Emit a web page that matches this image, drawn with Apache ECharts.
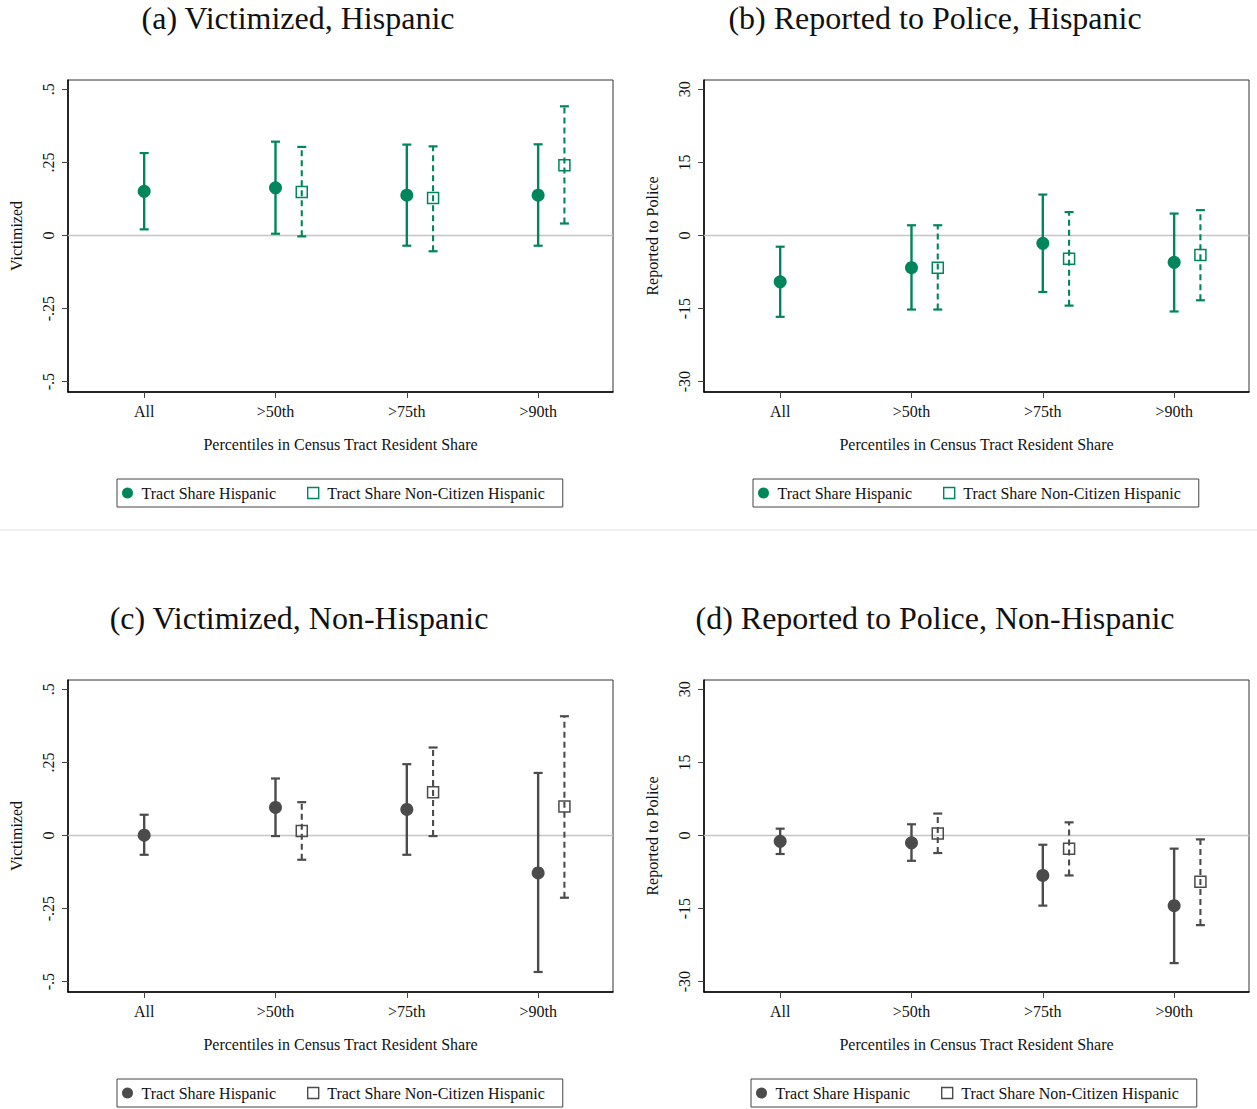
<!DOCTYPE html>
<html>
<head>
<meta charset="utf-8">
<script src="https://cdn.jsdelivr.net/npm/echarts@6/dist/echarts.min.js"></script>
<style>
  html, body { margin: 0; padding: 0; background: #ffffff; }
  #page { position: relative; width: 1257px; height: 1109px; background: #fff; }
  .panel { position: absolute; }
  #sep { position: absolute; left: 0; top: 529px; width: 1257px; height: 2px; background: #f0f0f0; }
</style>
</head>
<body>
<div id="page">
  <div id="pa" class="panel" style="left:0px;top:0px;width:628px;height:529px;"></div>
  <div id="pb" class="panel" style="left:628px;top:0px;width:629px;height:529px;"></div>
  <div id="sep"></div>
  <div id="pc" class="panel" style="left:0px;top:600px;width:628px;height:509px;"></div>
  <div id="pd" class="panel" style="left:628px;top:600px;width:629px;height:509px;"></div>
</div>
<script>
// ---------------- DATA ----------------
const categories = ['All', '>50th', '>75th', '>90th'];
const seriesNames = ['Tract Share Hispanic', 'Tract Share Non-Citizen Hispanic'];
const xLabel = 'Percentiles in Census Tract Resident Share';

const victimTickValues = [-0.5, -0.25, 0, 0.25, 0.5];
const victimTickLabels = ['-.5', '-.25', '0', '.25', '.5'];
const policeTickValues = [-30, -15, 0, 15, 30];
const policeTickLabels = ['-30', '-15', '0', '15', '30'];

// (a) Victimized, Hispanic
const vicHispShareEst = [0.151, 0.163, 0.138, 0.138];
const vicHispShareLo  = [0.021, 0.006, -0.035, -0.035];
const vicHispShareHi  = [0.282, 0.321, 0.311, 0.312];
const vicHispNonCitEst = [null, 0.149, 0.128, 0.240];
const vicHispNonCitLo  = [null, -0.003, -0.054, 0.041];
const vicHispNonCitHi  = [null, 0.303, 0.305, 0.442];

// (b) Reported to Police, Hispanic
const polHispShareEst = [-9.5, -6.6, -1.6, -5.5];
const polHispShareLo  = [-16.7, -15.2, -11.6, -15.6];
const polHispShareHi  = [-2.3, 2.1, 8.4, 4.5];
const polHispNonCitEst = [null, -6.6, -4.8, -4.0];
const polHispNonCitLo  = [null, -15.2, -14.4, -13.3];
const polHispNonCitHi  = [null, 2.1, 4.8, 5.2];

// (c) Victimized, Non-Hispanic
const vicNonHispShareEst = [0.001, 0.096, 0.089, -0.128];
const vicNonHispShareLo  = [-0.066, -0.002, -0.066, -0.467];
const vicNonHispShareHi  = [0.071, 0.195, 0.244, 0.214];
const vicNonHispNonCitEst = [null, 0.015, 0.148, 0.099];
const vicNonHispNonCitLo  = [null, -0.083, -0.002, -0.213];
const vicNonHispNonCitHi  = [null, 0.114, 0.301, 0.408];

// (d) Reported to Police, Non-Hispanic
const polNonHispShareEst = [-1.2, -1.5, -8.2, -14.4];
const polNonHispShareLo  = [-3.8, -5.2, -14.4, -26.2];
const polNonHispShareHi  = [1.4, 2.3, -1.9, -2.7];
const polNonHispNonCitEst = [null, 0.4, -2.7, -9.5];
const polNonHispNonCitLo  = [null, -3.6, -8.2, -18.4];
const polNonHispNonCitHi  = [null, 4.5, 2.7, -0.8];

// ---------------- STYLE / LAYOUT ----------------
const GREEN = '#00865a';
const GRAY = '#4b4b4b';
const FONT = 'Liberation Serif';
const DODGE = 0.2;
const SQUARE_ICON = 'path://M0,0H10V10H0Z';

const panels = [
  { el: 'pa', title: '(a) Victimized, Hispanic', yName: 'Victimized', color: GREEN,
    est: vicHispShareEst, lo: vicHispShareLo, hi: vicHispShareHi,
    ncEst: vicHispNonCitEst, ncLo: vicHispNonCitLo, ncHi: vicHispNonCitHi,
    ticks: victimTickValues, tickLabels: victimTickLabels, yMin: -0.5355, yMax: 0.532,
    gridLeft: 67, gridW: 546, titleX: 293, legendLeft: 117 },
  { el: 'pb', title: '(b) Reported to Police, Hispanic', yName: 'Reported to Police', color: GREEN,
    est: polHispShareEst, lo: polHispShareLo, hi: polHispShareHi,
    ncEst: polHispNonCitEst, ncLo: polHispNonCitLo, ncHi: polHispNonCitHi,
    ticks: policeTickValues, tickLabels: policeTickLabels, yMin: -32.13, yMax: 31.92,
    gridLeft: 76, gridW: 545, titleX: 302, legendLeft: 125 },
  { el: 'pc', title: '(c) Victimized, Non-Hispanic', yName: 'Victimized', color: GRAY,
    est: vicNonHispShareEst, lo: vicNonHispShareLo, hi: vicNonHispShareHi,
    ncEst: vicNonHispNonCitEst, ncLo: vicNonHispNonCitLo, ncHi: vicNonHispNonCitHi,
    ticks: victimTickValues, tickLabels: victimTickLabels, yMin: -0.5355, yMax: 0.532,
    gridLeft: 67, gridW: 546, titleX: 294, legendLeft: 117 },
  { el: 'pd', title: '(d) Reported to Police, Non-Hispanic', yName: 'Reported to Police', color: GRAY,
    est: polNonHispShareEst, lo: polNonHispShareLo, hi: polNonHispShareHi,
    ncEst: polNonHispNonCitEst, ncLo: polNonHispNonCitLo, ncHi: polNonHispNonCitHi,
    ticks: policeTickValues, tickLabels: policeTickLabels, yMin: -32.13, yMax: 31.92,
    gridLeft: 76, gridW: 545, titleX: 302, legendLeft: 123 }
];

function errorBarSeries(data, color, dashed) {
  return {
    type: 'custom',
    name: dashed ? 'ci-noncit' : 'ci-share',
    silent: true,
    z: 2,
    data: data,
    encode: { x: 0, y: [1, 2] },
    renderItem: function (params, api) {
      const x = api.value(0), lo = api.value(1), hi = api.value(2);
      const p1 = api.coord([x, lo]);
      const p2 = api.coord([x, hi]);
      const cw = 4.5;
      return {
        type: 'group',
        children: [
          { type: 'line', shape: { x1: p1[0], y1: p1[1], x2: p2[0], y2: p2[1] },
            style: { stroke: color, lineWidth: dashed ? 2.1 : 2.4, lineDash: dashed ? [6, 4] : null, fill: null } },
          { type: 'line', shape: { x1: p1[0] - cw, y1: p1[1], x2: p1[0] + cw, y2: p1[1] },
            style: { stroke: color, lineWidth: 2.2, fill: null } },
          { type: 'line', shape: { x1: p2[0] - cw, y1: p2[1], x2: p2[0] + cw, y2: p2[1] },
            style: { stroke: color, lineWidth: 2.2, fill: null } }
        ]
      };
    }
  };
}

panels.forEach(function (p) {
  const chart = echarts.init(document.getElementById(p.el), null, { renderer: 'svg' });
  const sharePts = [], shareCI = [], ncPts = [], ncCI = [];
  categories.forEach(function (c, i) {
    const x = i + 1;
    if (p.est[i] != null) {
      sharePts.push([x, p.est[i]]);
      shareCI.push([x, p.lo[i], p.hi[i]]);
    }
    if (p.ncEst[i] != null) {
      ncPts.push([x + DODGE, p.ncEst[i]]);
      ncCI.push([x + DODGE, p.ncLo[i], p.ncHi[i]]);
    }
  });

  chart.setOption({
    animation: false,
    backgroundColor: '#ffffff',
    title: {
      text: p.title, left: p.titleX, top: 13, textAlign: 'center', textVerticalAlign: 'middle',
      textStyle: { fontFamily: FONT, fontSize: 32, fontWeight: 'normal', color: '#111' }
    },
    legend: {
      left: p.legendLeft, top: 479,
      orient: 'horizontal',
      padding: [6, 18, 6, 5],
      borderColor: '#444', borderWidth: 1,
      itemWidth: 18, itemHeight: 11, itemGap: 31,
      textStyle: { fontFamily: FONT, fontSize: 16, color: '#111' },
      selectedMode: false,
      data: [
        { name: seriesNames[0], icon: 'circle', itemStyle: { color: p.color, borderWidth: 0 } },
        { name: seriesNames[1], icon: SQUARE_ICON, itemStyle: { color: 'rgba(0,0,0,0)', borderColor: p.color, borderWidth: 1.4 } }
      ]
    },
    grid: {
      left: p.gridLeft, top: 80, width: p.gridW, height: 312,
      show: true, borderColor: '#333', borderWidth: 1, backgroundColor: '#fff'
    },
    xAxis: {
      type: 'value', min: 0.42, max: 4.57,
      name: xLabel, nameLocation: 'middle', nameGap: 44,
      nameTextStyle: { fontFamily: FONT, fontSize: 16, color: '#111' },
      axisLine: { show: true, onZero: false, lineStyle: { color: '#000', width: 1.5 } },
      axisTick: { show: true, length: 6, inside: false, customValues: [1, 2, 3, 4], lineStyle: { color: '#444', width: 1 } },
      axisLabel: {
        customValues: [1, 2, 3, 4], margin: 11,
        fontFamily: FONT, fontSize: 16, color: '#111',
        formatter: function (v) { return categories[Math.round(v) - 1]; }
      },
      splitLine: { show: false }
    },
    yAxis: {
      type: 'value', min: p.yMin, max: p.yMax,
      name: p.yName, nameLocation: 'middle', nameGap: 44, nameRotate: 90,
      nameTextStyle: { fontFamily: FONT, fontSize: 16, color: '#111' },
      axisLine: { show: true, onZero: false, lineStyle: { color: '#000', width: 1.5 } },
      axisTick: { show: true, length: 6, inside: false, customValues: p.ticks, lineStyle: { color: '#444', width: 1 } },
      axisLabel: {
        customValues: p.ticks, rotate: 90, margin: 12,
        fontFamily: FONT, fontSize: 16, color: '#111',
        formatter: function (v) {
          for (let i = 0; i < p.ticks.length; i++) {
            if (Math.abs(p.ticks[i] - v) < 1e-9) return p.tickLabels[i];
          }
          return '';
        }
      },
      splitLine: { show: false }
    },
    series: [
      errorBarSeries(shareCI, p.color, false),
      errorBarSeries(ncCI, p.color, true),
      {
        type: 'scatter', name: seriesNames[0], data: sharePts, z: 4,
        symbol: 'circle', symbolSize: 13,
        itemStyle: { color: p.color, opacity: 1 },
        markLine: {
          silent: true, symbol: ['none', 'none'], label: { show: false },
          lineStyle: { color: '#c4c4c4', width: 1.3, type: 'solid' },
          data: [{ yAxis: 0 }],
          z: 1
        }
      },
      {
        type: 'scatter', name: seriesNames[1], data: ncPts, z: 4,
        symbol: 'rect', symbolSize: 11,
        itemStyle: { color: 'rgba(0,0,0,0)', borderColor: p.color, borderWidth: 1.5, opacity: 1 }
      }
    ]
  });
});
</script>
</body>
</html>
